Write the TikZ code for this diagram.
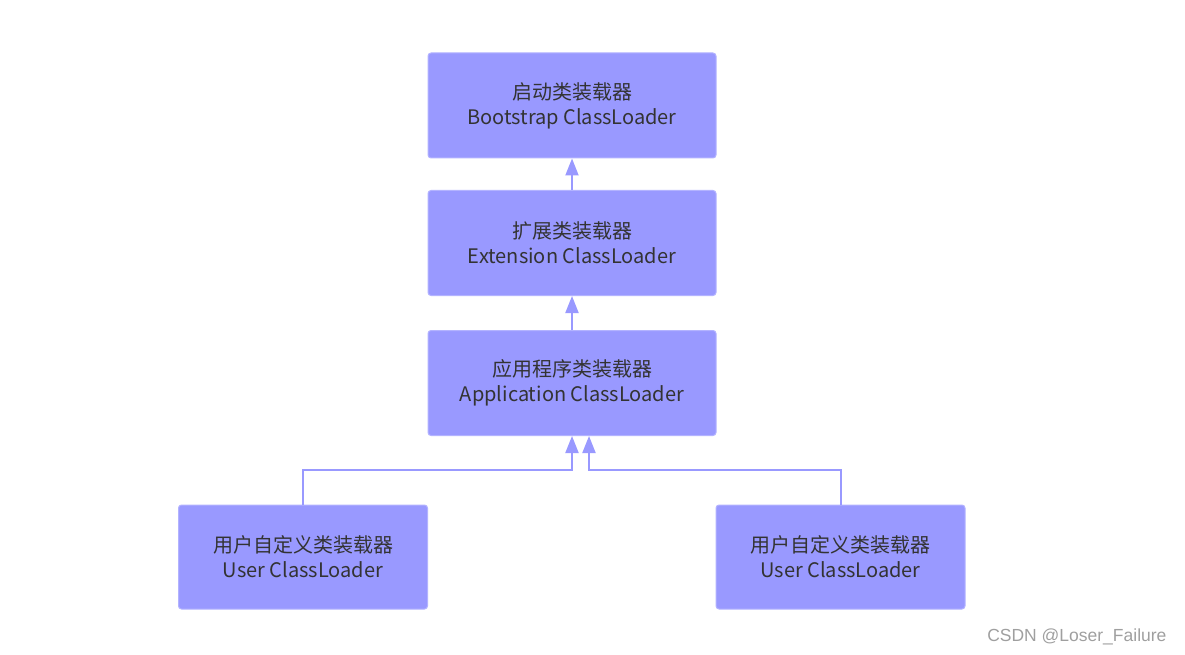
\documentclass[tikz,border=0pt]{standalone}
\usepackage{fontspec}
\setmainfont{Noto Sans CJK SC}
\newfontfamily\wmfont{Liberation Sans}
\usetikzlibrary{arrows.meta}
\definecolor{boxfill}{HTML}{9999FF}
\definecolor{boxedge}{HTML}{B3B3FF}
\definecolor{linec}{HTML}{9999FF}
\definecolor{txt}{HTML}{333333}
\tikzset{
  loader/.style={draw=boxedge, line width=1pt, fill=boxfill, rounded corners=3pt,
    minimum width=288pt, minimum height=105pt, inner sep=0pt, align=center,
    text=txt, font=\fontsize{20pt}{25pt}\selectfont},
  userloader/.style={loader, minimum width=249pt, minimum height=104pt},
  link/.style={draw=linec, line width=2pt, -{Triangle[width=13pt,length=17pt]}}
}
\begin{document}
\begin{tikzpicture}[x=1pt,y=-1pt]
\useasboundingbox (0,0) rectangle (1185,655);
\node[loader] (boot) at (572,105.5) {启动类装载器\\Bootstrap ClassLoader};
\node[loader] (ext) at (572,243) {扩展类装载器\\Extension ClassLoader};
\node[loader] (app) at (572,383) {应用程序类装载器\\Application ClassLoader};
\node[userloader] (u1) at (303,557) {用户自定义类装载器\\User ClassLoader};
\node[userloader] (u2) at (840.5,557) {用户自定义类装载器\\User ClassLoader};
\coordinate (j1) at (303,470);
\coordinate (j2) at (840.5,470);
\draw[link] (ext.north) -- (boot.south);
\draw[link] (app.north) -- (ext.south);
\draw[link] (u1.north) -- (j1) -- (j1 -| app.south) -- (app.south);
\draw[link] (u2.north) -- (j2) -- ([xshift=17pt]j2 -| app.south) -- ([xshift=17pt]app.south);
\node[anchor=east, font=\wmfont\fontsize{17.5pt}{19pt}\selectfont, text=gray!75] (wm) at (1170,637) {CSDN @Loser\_Failure};
\end{tikzpicture}
\end{document}
